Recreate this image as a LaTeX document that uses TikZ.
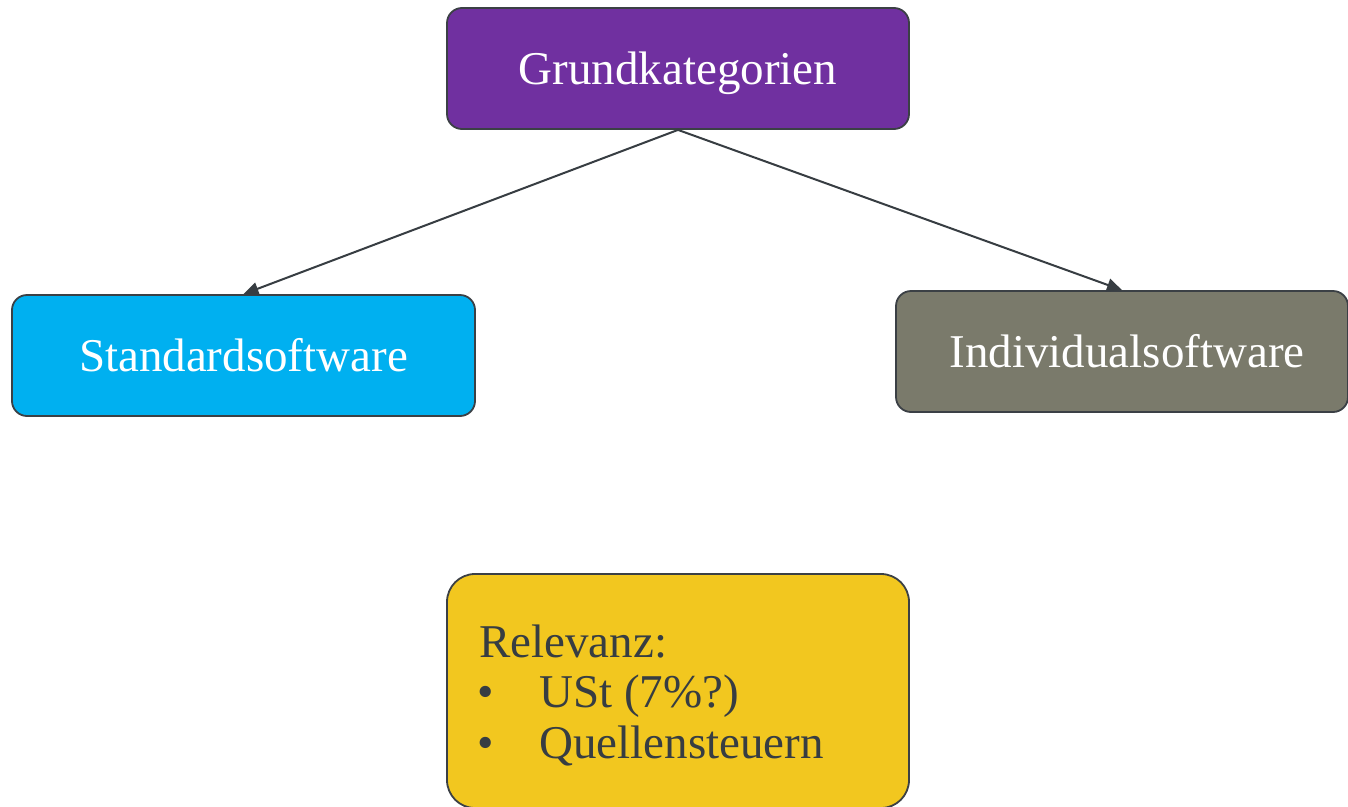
\documentclass[tikz,border=0pt]{standalone}
\usepackage{fontspec}
\setmainfont{Liberation Serif}
\usetikzlibrary{arrows.meta}
\definecolor{catpurple}{HTML}{7030A0}
\definecolor{catcyan}{HTML}{00B0F0}
\definecolor{catgray}{HTML}{7A7A6B}
\definecolor{catyellow}{HTML}{F2C71F}
\definecolor{edgegray}{HTML}{3B4045}
\definecolor{inkgray}{HTML}{373D42}
\tikzset{
  catbox/.style={draw=edgegray, line width=1.8pt, rounded corners=15pt,
    minimum height=121pt, inner sep=0pt, text=white,
    font=\fontsize{47}{50}\selectfont, text height=36pt, text depth=5pt},
  notebox/.style={draw=edgegray, line width=1.8pt, rounded corners=28pt,
    minimum width=462pt, minimum height=234pt, inner sep=0pt},
  notetext/.style={anchor=base west, inner sep=0pt, text=inkgray,
    font=\fontsize{47}{50}\selectfont},
  link/.style={draw=inkgray, line width=2pt,
    -{Triangle[length=15pt,width=13pt]}}
}
\begin{document}
\begin{tikzpicture}[x=1pt,y=-1pt]
  \useasboundingbox (0,0) rectangle (1348,806);
  \clip (0,0) rectangle (1348,806);
  \fill[white] (0,0) rectangle (1348,806);

  % category boxes
  \node[catbox, fill=catpurple, minimum width=462pt] (root) at (678,68.5) {Grundkategorien};
  \node[catbox, fill=catcyan, minimum width=463pt] (std) at (243.5,355.5) {Standardsoftware};
  \node[catbox, fill=catgray, minimum width=452pt] (ind) at (1122,351.5) {\hspace*{10pt}Individualsoftware};

  % relevance note
  \node[notebox, fill=catyellow] (note) at (678,691) {};
  \node[notetext] (noteh) at (479,657) {Relevanz:};
  \node[notetext] (b1) at (477,707) {•};
  \node[notetext] (i1) at (539,707) {USt (7\%?)};
  \node[notetext] (b2) at (477,758) {•};
  \node[notetext] (i2) at (539,758) {Quellensteuern};

  % connectors
  \draw[link] (root.south) -- (std.north);
  \draw[link] (root.south) -- (ind.north);
\end{tikzpicture}
\end{document}
